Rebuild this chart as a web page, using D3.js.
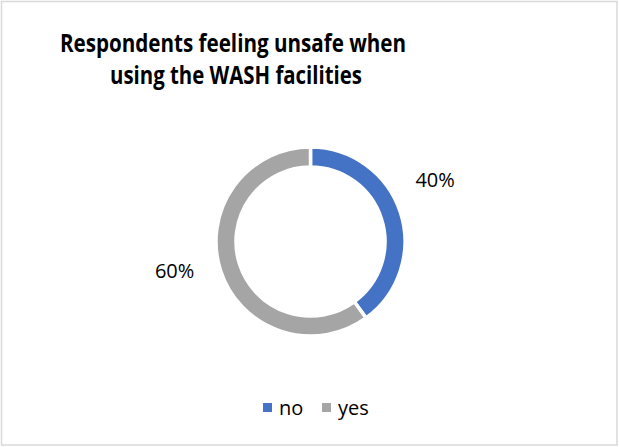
<!DOCTYPE html>
<html>
<head>
<meta charset="utf-8">
<script src="https://cdn.jsdelivr.net/npm/d3@7"></script>
<style>
  html, body { margin: 0; padding: 0; background: #fff; }
  svg { display: block; }
</style>
</head>
<body>
<svg id="chart" width="619" height="447"></svg>
<script>
// Survey answers and their shares (percent)
const categories = ["no", "yes"];
const values = [40, 60];
const colors = ["#4472C4", "#A5A5A5"];
const titleLines = ["Respondents feeling unsafe when", "using the WASH facilities"];

const svg = d3.select("#chart");
const W = 619, H = 447;
const font = "'Open Sans', 'Liberation Sans', sans-serif";

// Chart frame
svg.append("rect")
  .attr("x", 1.5).attr("y", 1.5)
  .attr("width", W - 3.5).attr("height", H - 3.5)
  .attr("fill", "#fff")
  .attr("stroke", "#D9D9D9")
  .attr("stroke-width", 1.5);

// Title, two lines
const titleWidths = [346, 252];
const titleX = [233, 236];
svg.append("g").selectAll("text")
  .data(titleLines)
  .join("text")
  .attr("x", (d, i) => titleX[i])
  .attr("y", (d, i) => 52 + i * 32)
  .attr("text-anchor", "middle")
  .attr("font-family", font)
  .attr("font-weight", "bold")
  .attr("font-size", 24.5)
  .attr("fill", "#000")
  .attr("textLength", (d, i) => titleWidths[i])
  .attr("lengthAdjust", "spacingAndGlyphs")
  .text(d => d);

// Donut
const cx = 310.5, cy = 241.5;
const outerR = 94.5, innerR = 74.5;
const data = categories.map((c, i) => ({ category: c, value: values[i], color: colors[i] }));

const pie = d3.pie().value(d => d.value).sort(null);
const arc = d3.arc().innerRadius(innerR).outerRadius(outerR);
const arcs = pie(data);

const g = svg.append("g").attr("transform", `translate(${cx},${cy})`);
g.selectAll("path")
  .data(arcs)
  .join("path")
  .attr("d", arc)
  .attr("fill", d => d.data.color)
  .attr("stroke", "#fff")
  .attr("stroke-width", 3.5)
  .attr("stroke-linejoin", "miter");

// Percentage labels placed outside the ring, with a small angular nudge per slice
const labelR = 139;
const labelTurn = [-8.3, 5.8]; // degrees
g.selectAll("text.pct")
  .data(arcs)
  .join("text")
  .attr("class", "pct")
  .attr("transform", (d, i) => {
    const a = (d.startAngle + d.endAngle) / 2 + labelTurn[i] * Math.PI / 180;
    return `translate(${labelR * Math.sin(a)},${-labelR * Math.cos(a)})`;
  })
  .attr("text-anchor", "middle")
  .attr("dominant-baseline", "central")
  .attr("font-family", font)
  .attr("font-size", 20)
  .attr("fill", "#000")
  .text(d => d.data.value + "%");

// Legend
const legendX = [263, 322];
const legend = svg.append("g").selectAll("g")
  .data(data)
  .join("g")
  .attr("transform", (d, i) => `translate(${legendX[i]},403)`);
legend.append("rect")
  .attr("width", 9).attr("height", 9)
  .attr("fill", d => d.color);
legend.append("text")
  .attr("x", 16).attr("y", 12)
  .attr("font-family", font)
  .attr("font-size", 20)
  .attr("fill", "#000")
  .text(d => d.category);
</script>
</body>
</html>
